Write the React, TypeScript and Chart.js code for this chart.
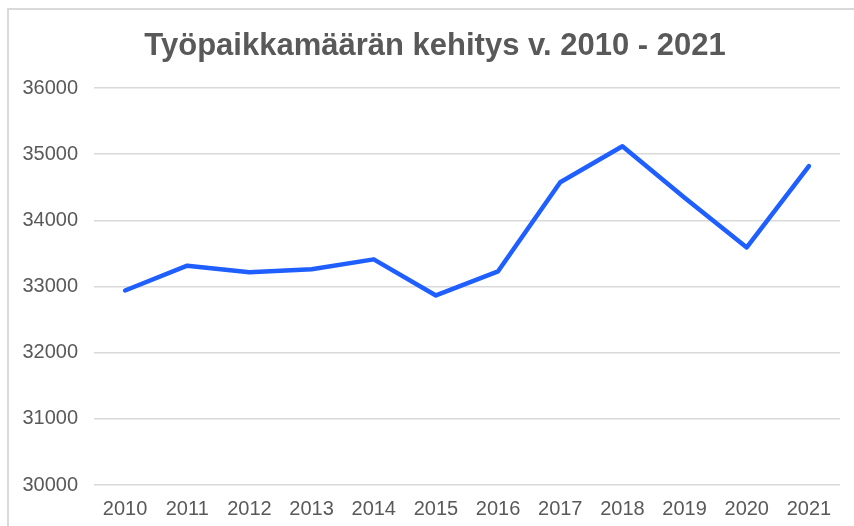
import React, { useEffect, useRef } from "react";
import { Chart, registerables } from "chart.js";

Chart.register(...registerables);

const years = ["2010", "2011", "2012", "2013", "2014", "2015", "2016", "2017", "2018", "2019", "2020", "2021"];
const jobs = [32940, 33315, 33215, 33260, 33410, 32865, 33230, 34575, 35120, 34340, 33590, 34820];
const yMin = 30000;
const yMax = 36000;
const yStep = 1000;
const titleText = "Työpaikkamäärän kehitys v. 2010 - 2021";

const FONT = "'Liberation Sans', Arial, sans-serif";

const titlePlugin = {
  id: "excelTitle",
  afterDraw(chart: any) {
    const ctx = chart.ctx;
    ctx.save();
    ctx.font = `bold 31px ${FONT}`;
    ctx.fillStyle = "#595959";
    ctx.textAlign = "center";
    ctx.textBaseline = "alphabetic";
    ctx.fillText(titleText, 426, 45);
    ctx.restore();
  },
};

export default function App() {
  const ref = useRef<HTMLCanvasElement>(null);
  useEffect(() => {
    document.body.style.margin = "0";
    const ctx = ref.current!;
    const chart = new Chart(ctx, {
      type: "line",
      data: {
        labels: years,
        datasets: [
          {
            data: jobs,
            borderColor: "#1f5fff",
            borderWidth: 4.5,
            pointRadius: 0,
            tension: 0,
            borderCapStyle: "round",
            borderJoinStyle: "round",
            fill: false,
          },
        ],
      },
      plugins: [titlePlugin],
      options: {
        animation: false,
        responsive: false,
        devicePixelRatio: 1,
        layout: { padding: { left: 0, right: 14, top: 78, bottom: 5 } },
        plugins: {
          legend: { display: false },
          tooltip: { enabled: false },
          title: { display: false },
        },
        scales: {
          x: {
            offset: true,
            grid: { display: false, drawTicks: false },
            border: { display: false },
            ticks: {
              color: "#595959",
              font: { family: FONT, size: 20 },
              padding: 12,
              maxRotation: 0,
              autoSkip: false,
            },
            afterFit: (scale: any) => {
              scale.height = 36;
            },
          },
          y: {
            min: yMin,
            max: yMax,
            border: { display: false },
            grid: { color: "#d9d9d9", lineWidth: 1.5, drawTicks: false },
            ticks: {
              stepSize: yStep,
              color: "#595959",
              font: { family: FONT, size: 20 },
              padding: 16,
              callback: (v: any) => String(v),
            },
            afterFit: (scale: any) => {
              scale.width = 85;
            },
          },
        },
      },
    });
    return () => chart.destroy();
  }, []);
  return (
    <div
      style={{
        position: "absolute",
        left: 7,
        top: 8,
        width: 847,
        height: 518,
        borderTop: "2px solid #d9d9d9",
        borderLeft: "2px solid #d9d9d9",
        background: "#fff",
      }}
    >
      <canvas ref={ref} width={845} height={516} style={{ display: "block" }} />
    </div>
  );
}
